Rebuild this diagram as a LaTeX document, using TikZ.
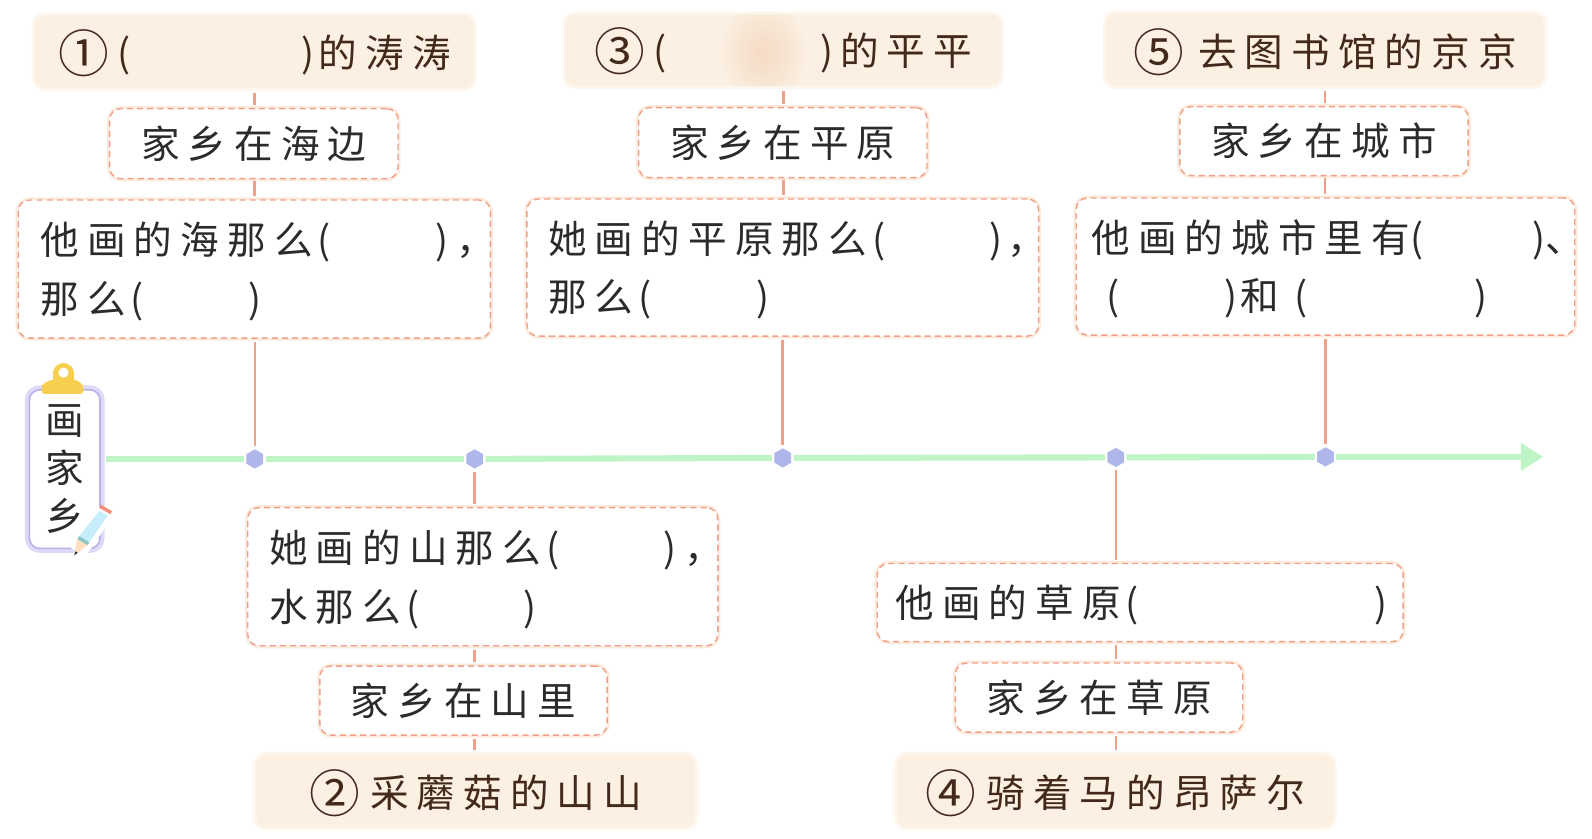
\documentclass[tikz,border=0pt]{standalone}
\usepackage{fontspec}
\usetikzlibrary{shapes.geometric,arrows.meta,backgrounds}
\setmainfont[LetterSpace=21]{Noto Sans CJK SC}
\newfontfamily\nosp{Noto Sans CJK SC}
\hfuzz=200pt
\definecolor{salmon}{HTML}{F0A088}
\definecolor{halo}{HTML}{FCEBDD}
\definecolor{titlefill}{HTML}{FBF0E2}
\definecolor{titleedge}{HTML}{FDF6EC}
\definecolor{titleblot}{HTML}{F6CFB4}
\definecolor{axisgreen}{HTML}{BFF4C6}
\definecolor{dotblue}{HTML}{AEB6EA}
\definecolor{lav}{HTML}{DDD9F7}
\definecolor{lavline}{HTML}{B4B2E8}
\definecolor{clipyellow}{HTML}{F7CF4F}
\definecolor{ink}{HTML}{2B2B2B}
\definecolor{brownink}{HTML}{43291C}
\newcommand{\blank}[1]{\hspace*{#1pt}}
\newcommand{\lp}{{\nosp(}}
\newcommand{\lpk}{\blank{5}{\nosp(}}
\newcommand{\rp}{{\nosp)}}
\newcommand{\num}[1]{{\nosp\fontsize{50}{50}\selectfont\raisebox{-5pt}{\smash{#1}}}}
\tikzset{
  x=1pt,y=-1pt,
  txt/.style={font=\fontsize{38}{58}\selectfont,text=ink},
  dashbox/.style={txt,rectangle,rounded corners=11pt,fill=white,draw=salmon,line width=1.4pt,
    dash pattern=on 6pt off 4pt,inner sep=0pt,
    preaction={draw=halo,line width=5pt,solid}},
  leftbox/.style={dashbox,align=left,execute at begin node={\rule{0pt}{37pt}}},
  midbox/.style={dashbox,align=center},
  titlebox/.style={txt,rectangle,rounded corners=11pt,fill=titlefill,draw=titleedge,line width=3pt,
    inner sep=0pt,align=center,text=brownink,execute at begin node={\rule{0pt}{38pt}}},
  conn/.style={draw=salmon,line width=2.6pt},
  axisline/.style={draw=axisgreen,line width=6pt},
  dotnode/.style={regular polygon,regular polygon sides=6,shape border rotate=30,fill=dotblue,
    minimum size=19pt,inner sep=0pt,outer sep=2.5pt},
}
\begin{document}
\begin{tikzpicture}
\useasboundingbox (0,0) rectangle (1568,825.4);
% clipboard
\node[rectangle,rounded corners=10pt,draw=lavline,line width=1.5pt,fill=white,minimum width=69.5pt,minimum height=156pt,inner sep=0pt,align=center,
  preaction={draw=lav,line width=9pt},
  font=\fontsize{38}{47}\selectfont,text=ink] (board) at (63.75,462) {{\nosp 画}\\{\nosp 家}\\{\nosp 乡}};
\fill[clipyellow] (62.5,368) circle[radius=10.5];
\fill[clipyellow] (52,368) rectangle (73,380);
\fill[white] (62.5,367) circle[radius=5];
\fill[clipyellow,rounded corners=3pt] (41,388) -- (41,379) -- (50,374) -- (75,374) -- (82,379) -- (82,388) -- cycle;
% pencil
\fill[white] (96,498) -- (112,508) -- (84,548) -- (70,540) -- cycle;
\fill[cyan!22] (98,503) -- (106,508) -- (88,534) -- (78,528) -- cycle;
\fill[teal!45] (78,528) -- (88,534) -- (86,537) -- (76,531) -- cycle;
\fill[orange!25] (76,531) -- (86,537) -- (73,547) -- cycle;
\fill[ink] (74.5,543) -- (76.5,544.5) -- (73,547) -- cycle;
\draw[salmon!90!red,line width=3.5pt] (98.5,498.5) -- (109.5,505);
% dots
\node[dotnode] (d1) at (251,452) {};
\node[dotnode] (d2) at (467.5,452) {};
\node[dotnode] (d3) at (771,451) {};
\node[dotnode] (d4) at (1099,450.5) {};
\node[dotnode] (d5) at (1305.5,450) {};
\coordinate (tip) at (1520,450);
% axis
\draw[axisline,shorten <=5pt] (board.east |- d1) -- (d1);
\draw[axisline] (d1) -- (d2);
\draw[axisline] (d2) -- (d3);
\draw[axisline] (d3) -- (d4);
\draw[axisline] (d4) -- (d5);
\draw[axisline,-{Triangle[length=22pt,width=26pt]}] (d5) -- (tip);
% top groups
\node[titlebox,minimum width=435pt,minimum height=74pt] (t1) at (250.5,51) {\num{①}\blank{9}\lp\blank{168}\rp\blank{4}的涛涛};
\node[midbox,minimum width=284pt,minimum height=69pt] (m1) at (250,141.5) {家乡在海边};
\node[leftbox,minimum width=465pt,minimum height=136pt,text width=421pt] (b1) at (250.5,265) {他画的海那么\lpk\blank{103}\rp\blank{8}，\\那么\lpk\blank{103}\rp};
\node[titlebox,minimum width=431pt,minimum height=73pt,
  path picture={\foreach \rr in {1,...,8}{\fill[titleblot,opacity=.09] ([xshift=-19.5pt,yshift=-2.5pt]path picture bounding box.center) ellipse[x radius=\rr*5,y radius=\rr*6];}}] (t3) at (771.5,49.5) {\num{③}\blank{8}\lp\blank{152}\rp\blank{6}的平平};
\node[midbox,minimum width=284pt,minimum height=69pt] (m3) at (771,140.5) {家乡在平原};
\node[leftbox,minimum width=504pt,minimum height=135pt,text width=462pt] (b3) at (771,263.5) {她画的平原那么\lpk\blank{103}\rp\blank{5}，\\那么\lpk\blank{103}\rp};
\node[titlebox,minimum width=434pt,minimum height=74pt] (t5) at (1305,49) {\num{⑤}\blank{14}去图书馆的京京};
\node[midbox,minimum width=284pt,minimum height=68pt] (m5) at (1304,139) {家乡在城市};
\node[leftbox,minimum width=491pt,minimum height=135pt,text width=461pt] (b5) at (1305.5,262.5) {他画的城市里有\lp\blank{108}\rp、\\\blank{15}\lp\blank{103}\rp\blank{3}和\blank{10}\lpk\blank{165}\rp};
% bottom groups
\node[leftbox,minimum width=463pt,minimum height=136pt,text width=421pt] (b2) at (475.5,568) {她画的山那么\lpk\blank{103}\rp\blank{8}，\\水那么\lpk\blank{103}\rp};
\node[midbox,minimum width=283pt,minimum height=68pt] (m2) at (456.5,690) {家乡在山里};
\node[titlebox,minimum width=435pt,minimum height=74pt] (t2) at (468.5,779) {\num{②}\blank{10}采蘑菇的山山};
\node[leftbox,minimum width=518pt,minimum height=77pt,text width=482pt] (b4) at (1123,593.5) {他画的草原\lpk\blank{232}\rp};
\node[midbox,minimum width=283pt,minimum height=68pt] (m4) at (1082.5,687) {家乡在草原};
\node[titlebox,minimum width=433pt,minimum height=74pt] (t4) at (1098.5,779) {\num{④}\blank{10}骑着马的昂萨尔};
% connectors
\draw[conn,shorten <=2pt,shorten >=3pt] (t1) -- (t1 |- m1.north);
\draw[conn,shorten <=2pt,shorten >=3pt] (t1 |- m1.south) -- (t1 |- b1.north);
\draw[conn,shorten <=3pt] (d1 |- b1.south) -- (d1);
\draw[conn,shorten <=2pt,shorten >=3pt] (t3) -- (t3 |- m3.north);
\draw[conn,shorten <=2pt,shorten >=3pt] (t3 |- m3.south) -- (t3 |- b3.north);
\draw[conn,shorten <=3pt] (d3 |- b3.south) -- (d3);
\draw[conn,shorten <=2pt,shorten >=3pt] (t5) -- (t5 |- m5.north);
\draw[conn,shorten <=2pt,shorten >=3pt] (t5 |- m5.south) -- (t5 |- b5.north);
\draw[conn,shorten <=3pt] (d5 |- b5.south) -- (d5);
\draw[conn,shorten >=3pt] (d2) -- (d2 |- b2.north);
\draw[conn,shorten <=3pt,shorten >=3pt] (d2 |- b2.south) -- (d2 |- m2.north);
\draw[conn,shorten <=3pt,shorten >=2pt] (d2 |- m2.south) -- (d2 |- t2.north);
\draw[conn,shorten >=3pt] (d4) -- (d4 |- b4.north);
\draw[conn,shorten <=3pt,shorten >=3pt] (d4 |- b4.south) -- (d4 |- m4.north);
\draw[conn,shorten <=3pt,shorten >=2pt] (d4 |- m4.south) -- (d4 |- t4.north);
\end{tikzpicture}
\end{document}
